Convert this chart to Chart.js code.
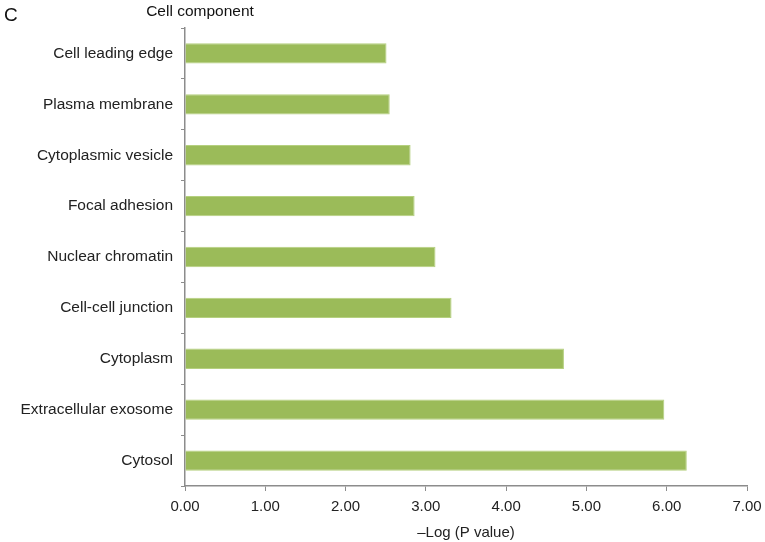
<!DOCTYPE html>
<html>
<head>
<meta charset="UTF-8" />
<title>Cell component</title>
<style>
  html, body { margin: 0; padding: 0; background: #fff; }
  #wrap { width: 765px; height: 542px; position: relative; }
</style>
</head>
<body>
<div id="wrap"><canvas id="chart"></canvas></div>

<script src="https://cdn.jsdelivr.net/npm/chart.js"></script>
<script>
// data (top to bottom)
const categories = [
  "Cell leading edge",
  "Plasma membrane",
  "Cytoplasmic vesicle",
  "Focal adhesion",
  "Nuclear chromatin",
  "Cell-cell junction",
  "Cytoplasm",
  "Extracellular exosome",
  "Cytosol"
];
const logP = [2.51, 2.55, 2.81, 2.86, 3.12, 3.32, 4.72, 5.97, 6.25];
const xTicks = [0, 1, 2, 3, 4, 5, 6, 7];

const panelLetter = "C";
const panelTitle = "Cell component";
const xTitle = "\u2013Log (P value)";

const FONT = "'Liberation Sans', Arial, Helvetica, sans-serif";
const AXIS = "#8c8c8c";

// draws the panel letter and the title over the plot
const headerText = {
  id: "headerText",
  afterDraw(chart) {
    const ctx = chart.ctx;
    ctx.save();
    ctx.fillStyle = "#111";
    ctx.textBaseline = "middle";
    ctx.textAlign = "left";
    ctx.font = "19px " + FONT;
    ctx.fillText(panelLetter, 4, 16);
    ctx.font = "15.5px " + FONT;
    ctx.textAlign = "center";
    ctx.fillText(panelTitle, 200, 12);
    ctx.restore();
  }
};

new Chart(document.getElementById("chart"), {
  type: "bar",
  data: {
    labels: categories,
    datasets: [{
      data: logP,
      backgroundColor: "#9bbb59",
      borderColor: "#b5d07f",
      borderWidth: 1,
      barPercentage: 0.4,
      categoryPercentage: 1
    }]
  },
  options: {
    indexAxis: "y",
    responsive: true,
    maintainAspectRatio: false,
    animation: false,
    layout: { padding: { top: 28, right: 4, bottom: 0, left: 0 } },
    plugins: {
      legend: { display: false },
      tooltip: { enabled: false }
    },
    scales: {
      x: {
        min: 0,
        max: 7,
        afterBuildTicks: (s) => { s.ticks = xTicks.map(v => ({ value: v })); },
        afterFit: (s) => { s.height = 56; s.paddingRight = 18; },
        grid: { drawOnChartArea: false, drawTicks: true, tickLength: 5, color: AXIS },
        border: { color: AXIS, width: 1.5 },
        ticks: {
          color: "#222",
          font: { size: 15, family: FONT },
          padding: 7,
          maxRotation: 0,
          callback: (v) => Number(v).toFixed(2)
        },
        title: {
          display: true,
          text: xTitle,
          color: "#222",
          font: { size: 15, family: FONT },
          padding: { top: 0, bottom: 0 }
        }
      },
      y: {
        afterFit: (s) => { s.width = 185; },
        grid: { offset: true, drawOnChartArea: false, drawTicks: true, tickLength: 4, color: AXIS },
        border: { color: AXIS, width: 1.5 },
        ticks: {
          color: "#222",
          font: { size: 15.5, family: FONT },
          padding: 8
        }
      }
    }
  },
  plugins: [headerText]
});
</script>
</body>
</html>
